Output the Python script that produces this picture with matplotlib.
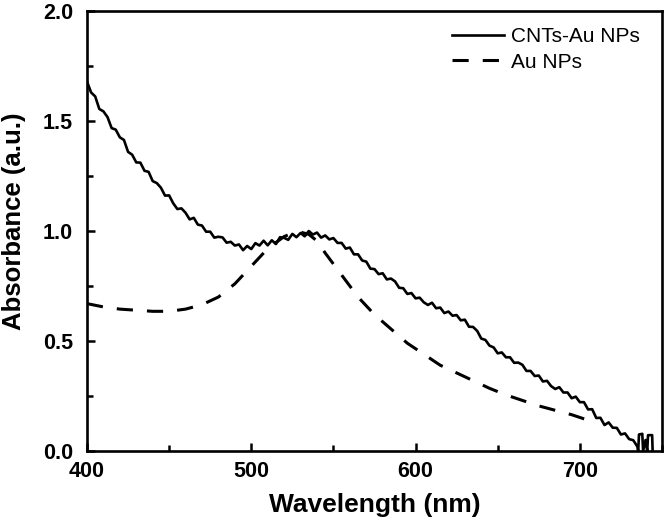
import numpy as np
import matplotlib
matplotlib.use("Agg")
from matplotlib import pyplot as plt
from matplotlib.ticker import MultipleLocator, FormatStrFormatter

plt.rcParams['font.family'] = ['Liberation Sans', 'DejaVu Sans']

# CNTs-Au NPs spectrum, every 2.5 nm from 400 to 735 nm
wl_cnt = np.arange(400, 735.1, 2.5)
abs_cnt = [
    1.68, 1.63, 1.612, 1.555, 1.544, 1.518, 1.468, 1.461, 1.426, 1.414,
    1.36, 1.347, 1.312, 1.311, 1.274, 1.269, 1.227, 1.218, 1.197, 1.161,
    1.162, 1.126, 1.10, 1.103, 1.083, 1.053, 1.06, 1.029, 1.025, 0.997,
    0.997, 0.97, 0.974, 0.971, 0.947, 0.951, 0.934, 0.939, 0.913, 0.932,
    0.918, 0.945, 0.934, 0.956, 0.935, 0.958, 0.941, 0.972, 0.969, 0.96,
    0.987, 0.972, 0.991, 0.976, 1.00, 0.984, 0.993, 0.97, 0.98, 0.962,
    0.968, 0.946, 0.946, 0.92, 0.925, 0.894, 0.894, 0.866, 0.861, 0.829,
    0.827, 0.804, 0.808, 0.78, 0.784, 0.771, 0.742, 0.74, 0.714, 0.718,
    0.694, 0.697, 0.676, 0.664, 0.674, 0.649, 0.652, 0.627, 0.634, 0.615,
    0.618, 0.594, 0.597, 0.565, 0.564, 0.546, 0.511, 0.505, 0.479, 0.471,
    0.444, 0.448, 0.426, 0.426, 0.401, 0.402, 0.392, 0.364, 0.364, 0.341,
    0.343, 0.316, 0.319, 0.295, 0.282, 0.29, 0.266, 0.266, 0.24, 0.247,
    0.222, 0.222, 0.189, 0.19, 0.15, 0.151, 0.118, 0.13, 0.106, 0.105,
    0.075, 0.08, 0.054, 0.049, 0.02,
]
# the little box at the end of the measured range
wl_tail = [735.5, 736, 738, 738.5, 740, 741, 741.5, 744, 744.3]
abs_tail = [0.0, 0.075, 0.078, 0.0, 0.05, 0.0, 0.072, 0.072, 0.0]

# Au NPs spectrum (smooth)
wl_au = [400, 410, 420, 430, 440, 450, 460, 470, 480, 490, 500, 510, 520,
         525, 530, 535, 540, 545, 555, 565, 575, 585, 595, 605, 615, 625,
         635, 645, 655, 665, 675, 685, 695, 705, 710]
abs_au = [0.67, 0.655, 0.645, 0.64, 0.635, 0.635, 0.645, 0.665, 0.70, 0.76,
          0.84, 0.92, 0.975, 0.99, 0.995, 0.985, 0.955, 0.90, 0.80, 0.70,
          0.62, 0.555, 0.49, 0.44, 0.39, 0.355, 0.32, 0.285, 0.255, 0.23,
          0.205, 0.185, 0.165, 0.14, 0.13]

x_solid = list(wl_cnt) + wl_tail
y_solid = list(abs_cnt) + abs_tail

fig = plt.figure(figsize=(6.66, 5.2), dpi=100)
ax = fig.add_axes([0.1306, 0.1327, 0.8634, 0.846])

ax.plot(x_solid, y_solid, color='black', lw=1.9, label='CNTs-Au NPs')
ax.plot(wl_au, abs_au, color='black', lw=2.2, dashes=(5.3, 4.6), label='Au NPs')

ax.set_xlim(400, 750)
ax.set_ylim(0, 2.0)
ax.xaxis.set_major_locator(MultipleLocator(100))
ax.xaxis.set_minor_locator(MultipleLocator(50))
ax.yaxis.set_major_locator(MultipleLocator(0.5))
ax.yaxis.set_minor_locator(MultipleLocator(0.25))
ax.yaxis.set_major_formatter(FormatStrFormatter('%.1f'))

ax.tick_params(which='both', direction='in', top=False, right=False, width=1.8)
ax.tick_params(which='major', length=6, labelsize=15.5)
ax.tick_params(axis='x', which='major', pad=7)
ax.tick_params(axis='y', which='major', pad=10)
ax.tick_params(which='minor', length=4)
for lab in ax.get_xticklabels() + ax.get_yticklabels():
    lab.set_fontweight('bold')
for sp in ax.spines.values():
    sp.set_linewidth(1.9)

ax.set_xlabel('Wavelength (nm)', fontsize=19, fontweight='bold', labelpad=8)
ax.set_ylabel('Absorbance (a.u.)', fontsize=18.5, fontweight='bold')
ax.yaxis.set_label_coords(-0.106, 0.523)

ax.legend(loc='upper right', bbox_to_anchor=(0.976, 0.982), borderaxespad=0,
          frameon=False, fontsize=15, handlelength=2.5, handletextpad=0.35,
          labelspacing=0.3)

fig.savefig('out.png', dpi=100)
